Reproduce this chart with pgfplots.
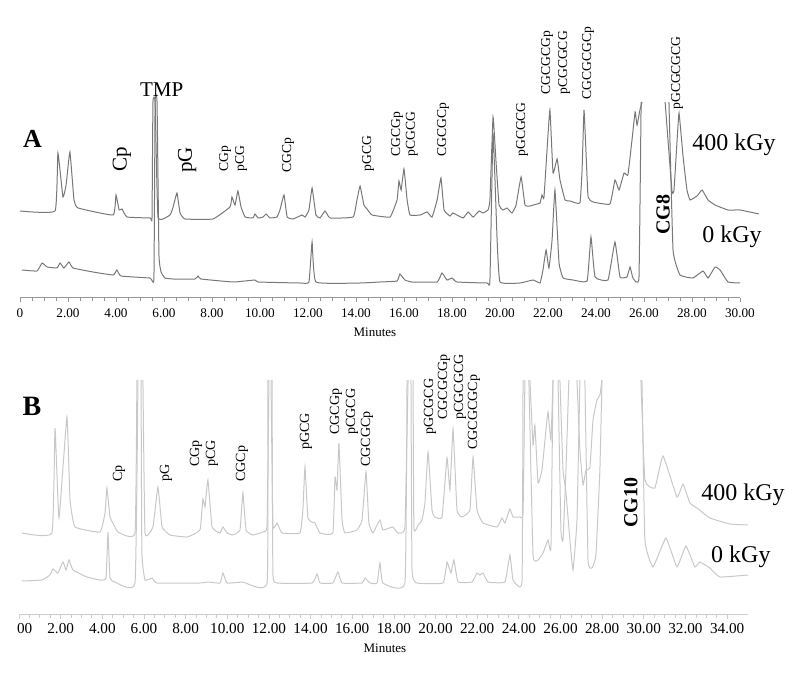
\documentclass[border=0pt]{standalone}
\usepackage{pgfplots}
\pgfplotsset{compat=1.18}
\usepackage{fontspec}
\setmainfont{Liberation Serif}
\definecolor{traceA}{RGB}{120,120,120}
\definecolor{traceB}{RGB}{200,200,200}
\definecolor{axisA}{RGB}{150,150,150}
\definecolor{axisB}{RGB}{205,205,205}
\newcommand{\fs}[1]{\fontsize{#1}{#1}\selectfont}
\begin{document}
\begin{tikzpicture}
\useasboundingbox (0,0) rectangle (400pt,338pt);
% ---------------- Panel A ----------------
\begin{axis}[at={(10pt,189pt)}, anchor=south west, x=12pt, y=0.5pt,
  xmin=0, xmax=30, ymin=0, ymax=240, clip=false,
  axis x line=bottom, axis y line=none,
  axis line style={-, draw=axisA, line width=0.5pt},
  xtick={0,2,...,30},
  xticklabels={0,2.00,4.00,6.00,8.00,10.00,12.00,14.00,16.00,18.00,20.00,22.00,24.00,26.00,28.00,30.00},
  minor x tick num=3, tick align=outside, major tick length=2pt, minor tick length=1.3pt,
  tick style={draw=axisA, line width=0.4pt},
  xticklabel style={font=\fs{6.6}, anchor=base, yshift=-8pt},
  xlabel={Minutes}, xlabel style={at={(axis description cs:0.493,0)}, anchor=center, yshift=-17pt, font=\fs{6.5}},
  unbounded coords=jump]
\addplot[traceA, line width=0.5pt, smooth, tension=0.2] coordinates {
(0.00,87)(1.46,87)(1.58,145)(1.79,101)(1.92,113)(2.08,146)(2.25,98)(2.42,90)(3.88,83)(4.00,103)(4.13,88)(4.25,89)(4.46,81)(5.42,80)(5.50,80)(5.54,196)(5.63,196)(5.75,81)(6.25,83)(6.38,91)(6.54,105)(6.67,85)(6.88,79)(8.04,79)(8.75,91)(8.83,101)(8.96,93)(9.08,107)(9.21,91)(9.38,81)(9.71,80)(9.79,84)(9.92,80)(10.13,81)(10.25,84)(10.42,80)(10.71,81)(10.83,88)(11.00,103)(11.13,81)(11.38,79)(11.75,83)(11.88,81)(12.04,88)(12.17,110)(12.33,83)(12.50,80)(12.71,87)(12.92,80)(13.88,81)(14.04,98)(14.17,112)(14.33,93)(14.46,89)(14.67,83)(15.42,81)(15.71,98)(15.79,117)(15.88,108)(16.00,129)(16.13,98)(16.25,83)(16.67,83)(16.96,86)(17.17,81)(17.38,98)(17.54,120)(17.67,88)(17.92,82)(18.04,85)(18.46,80)(18.67,86)(18.88,81)(19.13,87)(19.29,85)(19.50,88)(19.58,98)(19.71,181)(19.83,138)(19.96,93)(20.13,88)(20.29,90)(20.50,85)(20.67,93)(20.88,121)(21.04,93)(21.25,92)(21.54,94)(21.67,95)(21.75,103)(21.83,100)(21.96,148)(22.08,188)(22.21,125)(22.38,139)(22.50,118)(22.71,98)(22.92,97)(23.33,95)(23.42,128)(23.50,188)(23.58,148)(23.67,101)(23.88,96)(24.58,94)(24.79,118)(24.96,108)(25.17,125)(25.33,123)(25.50,158)(25.63,186)(25.71,173)(25.83,188)(25.92,196)(25.95,nan)(26.88,196)(27.00,158)(27.17,106)(27.25,108)(27.38,158)(27.46,185)(27.63,141)(27.79,108)(27.92,98)(28.21,102)(28.42,108)(28.67,98)(28.96,93)(29.50,88)(30.00,88)(30.79,84)};
\addplot[traceA, line width=0.5pt, smooth, tension=0.2] coordinates {
(0.08,28)(0.71,27)(0.92,35)(1.13,31)(1.54,30)(1.67,35)(1.83,30)(2.04,36)(2.21,30)(3.04,26)(3.88,23)(4.04,28)(4.21,22)(5.42,20)(5.58,20)(5.63,196)(5.71,196)(5.79,43)(5.88,26)(6.04,20)(6.38,19)(7.29,19)(7.42,22)(7.54,19)(8.88,16)(9.79,18)(9.92,16)(11.67,15)(12.04,16)(12.17,56)(12.33,16)(14.17,15)(15.00,16)(15.71,17)(15.83,24)(16.04,18)(16.33,16)(17.38,16)(17.58,25)(17.79,18)(18.00,20)(18.21,16)(19.46,15)(19.58,17)(19.71,165)(19.88,58)(20.00,16)(20.83,15)(21.38,18)(21.67,15)(21.79,28)(21.92,48)(22.04,30)(22.17,58)(22.29,108)(22.46,35)(22.63,20)(23.04,18)(23.63,17)(23.79,61)(23.96,21)(24.50,18)(24.79,56)(25.00,21)(25.29,21)(25.42,31)(25.54,20)(25.79,20)(25.88,196)(25.90,nan)(27.04,196)(27.21,48)(27.50,23)(28.04,20)(28.46,27)(28.67,20)(28.96,31)(29.17,28)(29.50,16)(30.00,15)};
% labels
\node[font=\bfseries\fs{13}, inner sep=0] at (axis cs:0.52,159) {A};
\node[font=\fs{10.5}, inner sep=0] at (axis cs:5.90,208) {TMP};
\node[rotate=90, anchor=west, inner sep=0, font=\fs{10.5}] at (axis cs:4.25,126) {Cp};
\node[rotate=90, anchor=west, inner sep=0, font=\fs{10.5}] at (axis cs:6.96,125) {pG};
\node[rotate=90, anchor=west, inner sep=0, font=\fs{6.8}] at (axis cs:8.54,126) {CGp};
\node[rotate=90, anchor=west, inner sep=0, font=\fs{6.8}] at (axis cs:9.21,126) {pCG};
\node[rotate=90, anchor=west, inner sep=0, font=\fs{6.8}] at (axis cs:11.17,125) {CGCp};
\node[rotate=90, anchor=west, inner sep=0, font=\fs{6.8}] at (axis cs:14.50,126) {pGCG};
\node[rotate=90, anchor=west, inner sep=0, font=\fs{6.8}] at (axis cs:15.71,141) {CGCGp};
\node[rotate=90, anchor=west, inner sep=0, font=\fs{6.8}] at (axis cs:16.33,141) {pCGCG};
\node[rotate=90, anchor=west, inner sep=0, font=\fs{6.8}] at (axis cs:17.63,141) {CGCGCp};
\node[rotate=90, anchor=west, inner sep=0, font=\fs{6.8}] at (axis cs:20.92,141) {pGCGCG};
\node[rotate=90, anchor=west, inner sep=0, font=\fs{6.8}] at (axis cs:21.96,203) {CGCGCGp};
\node[rotate=90, anchor=west, inner sep=0, font=\fs{6.8}] at (axis cs:22.67,203) {pCGCGCG};
\node[rotate=90, anchor=west, inner sep=0, font=\fs{6.8}] at (axis cs:23.67,198) {CGCGCGCp};
\node[rotate=90, anchor=west, inner sep=0, font=\fs{6.8}] at (axis cs:27.38,188) {pGCGCGCG};
\node[rotate=90, anchor=west, inner sep=0, font=\bfseries\fs{10}] at (axis cs:26.79,63) {CG8};
\node[font=\fs{12}, inner sep=0] at (axis cs:29.75,153) {400 kGy};
\node[font=\fs{12}, inner sep=0] at (axis cs:29.67,61) {0 kGy};
\end{axis}
% ---------------- Panel B ----------------
\begin{axis}[at={(9.5pt,30.5pt)}, anchor=south west, x=10.414pt, y=0.5pt,
  xmin=0, xmax=35, ymin=0, ymax=240, clip=false,
  axis x line=bottom, axis y line=none,
  axis line style={-, draw=axisB, line width=0.5pt},
  xtick={0,2,...,34},
  xticklabels={\phantom{0.}00,2.00,4.00,6.00,8.00,10.00,12.00,14.00,16.00,18.00,20.00,22.00,24.00,26.00,28.00,30.00,32.00,34.00},
  minor x tick num=3, tick align=outside, major tick length=2pt, minor tick length=1.3pt,
  tick style={draw=axisB, line width=0.4pt},
  xticklabel style={font=\fs{7.6}, anchor=base, yshift=-7.5pt},
  xlabel={Minutes}, xlabel style={at={(axis description cs:0.502,0)}, anchor=center, yshift=-16.5pt, font=\fs{6.5}},
  unbounded coords=jump]
\addplot[traceB, line width=0.5pt, smooth, tension=0.2] coordinates {
(0.14,82)(1.58,82)(1.73,187)(1.92,97)(2.30,198)(2.45,115)(2.69,88)(3.89,83)(4.13,102)(4.22,127)(4.37,98)(4.51,92)(4.75,83)(5.57,82)(5.66,235)(5.80,nan)(5.95,235)(6.05,82)(6.43,88)(6.67,128)(6.87,88)(7.25,80)(8.07,78)(8.69,85)(8.83,116)(8.93,108)(9.07,135)(9.27,88)(9.65,82)(9.79,88)(9.99,82)(10.27,80)(10.61,85)(10.75,122)(10.90,85)(11.23,80)(11.71,83)(11.91,90)(12.00,235)(12.05,nan)(12.10,235)(12.19,90)(12.39,92)(12.63,82)(13.49,82)(13.63,105)(13.73,148)(13.87,97)(14.07,93)(14.21,92)(14.45,82)(15.07,82)(15.17,138)(15.27,125)(15.36,172)(15.51,95)(15.65,82)(16.23,85)(16.47,95)(16.66,143)(16.80,92)(16.99,82)(17.33,95)(17.47,85)(17.95,88)(18.19,82)(18.53,88)(18.68,235)(18.80,nan)(18.92,235)(18.96,87)(19.16,90)(19.35,95)(19.49,112)(19.64,163)(19.83,105)(19.97,98)(20.31,98)(20.55,157)(20.69,125)(20.84,186)(21.03,105)(21.27,98)(21.65,105)(21.80,158)(21.99,105)(22.28,92)(22.95,88)(23.19,97)(23.33,92)(23.57,106)(23.72,98)(24.05,98)(24.20,102)(24.29,235)(24.40,nan)(24.53,235)(24.68,170)(24.77,190)(24.92,132)(25.11,145)(25.30,185)(25.40,203)(25.54,175)(25.64,235)(25.70,nan)(25.88,235)(26.02,85)(26.12,75)(26.26,145)(26.40,235)(26.60,nan)(26.79,235)(26.93,165)(27.08,130)(27.22,145)(27.41,147)(27.56,195)(27.75,215)(27.89,220)(27.99,235)(28.50,nan)(29.86,235)(30.05,135)(30.53,127)(30.92,159)(31.59,118)(31.88,131)(32.21,112)(32.55,107)(33.17,97)(34.13,91)(35.00,90)};
\addplot[traceB, line width=0.5pt, smooth, tension=0.2] coordinates {
(0.14,34)(1.10,35)(1.49,40)(1.63,46)(1.87,42)(2.11,53)(2.26,45)(2.40,55)(2.59,45)(3.26,38)(3.89,35)(4.18,37)(4.27,83)(4.37,37)(4.61,33)(5.57,32)(5.71,235)(5.80,nan)(5.86,235)(5.90,62)(6.05,35)(6.39,37)(6.63,32)(8.69,32)(9.07,33)(9.65,32)(9.79,42)(9.99,32)(10.75,33)(11.91,32)(11.95,235)(12.05,nan)(12.15,235)(12.19,42)(12.39,32)(14.07,32)(14.31,41)(14.45,32)(15.07,32)(15.31,43)(15.51,32)(16.47,32)(16.61,37)(16.85,32)(17.19,32)(17.33,52)(17.47,32)(18.53,32)(18.63,235)(18.70,nan)(18.82,235)(18.87,45)(19.11,32)(20.36,32)(20.55,53)(20.74,42)(20.88,55)(21.08,33)(21.75,33)(21.99,42)(22.13,40)(22.28,42)(22.52,33)(23.33,33)(23.57,60)(23.72,35)(24.15,33)(24.20,235)(24.30,nan)(24.48,235)(24.68,60)(24.92,55)(25.16,62)(25.40,75)(25.54,67)(25.64,235)(25.80,nan)(25.97,235)(26.12,145)(26.26,123)(26.45,75)(26.60,45)(26.79,95)(26.93,235)(27.00,nan)(27.17,235)(27.32,55)(27.51,47)(27.70,60)(27.89,145)(27.99,235)(28.50,nan)(29.91,235)(30.05,75)(30.44,48)(31.06,77)(31.59,48)(32.02,69)(32.45,48)(32.69,53)(33.17,47)(33.65,38)(35.00,40)};
% labels
\node[font=\bfseries\fs{14}, inner sep=0] at (axis cs:0.62,209) {B};
\node[rotate=90, anchor=west, inner sep=0, font=\fs{7}] at (axis cs:4.80,133) {Cp};
\node[rotate=90, anchor=west, inner sep=0, font=\fs{7}] at (axis cs:7.06,133) {pG};
\node[rotate=90, anchor=west, inner sep=0, font=\fs{7}] at (axis cs:8.50,148) {CGp};
\node[rotate=90, anchor=west, inner sep=0, font=\fs{7}] at (axis cs:9.27,148) {pCG};
\node[rotate=90, anchor=west, inner sep=0, font=\fs{7}] at (axis cs:10.71,133) {CGCp};
\node[rotate=90, anchor=west, inner sep=0, font=\fs{7}] at (axis cs:13.78,165) {pGCG};
\node[rotate=90, anchor=west, inner sep=0, font=\fs{7}] at (axis cs:15.22,180) {CGCGp};
\node[rotate=90, anchor=west, inner sep=0, font=\fs{7}] at (axis cs:15.99,180) {pCGCG};
\node[rotate=90, anchor=west, inner sep=0, font=\fs{7}] at (axis cs:16.71,148) {CGCGCp};
\node[rotate=90, anchor=west, inner sep=0, font=\fs{7}] at (axis cs:19.73,180) {pGCGCG};
\node[rotate=90, anchor=west, inner sep=0, font=\fs{7}] at (axis cs:20.40,195) {CGCGCGp};
\node[rotate=90, anchor=west, inner sep=0, font=\fs{7}] at (axis cs:21.17,195) {pCGCGCG};
\node[rotate=90, anchor=west, inner sep=0, font=\fs{7}] at (axis cs:21.84,165) {CGCGCGCp};
\node[rotate=90, anchor=west, inner sep=0, font=\bfseries\fs{10}] at (axis cs:29.38,87) {CG10};
\node[font=\fs{12}, inner sep=0] at (axis cs:34.76,120) {400 kGy};
\node[font=\fs{12}, inner sep=0] at (axis cs:34.66,58) {0 kGy};
\end{axis}
\end{tikzpicture}
\end{document}
